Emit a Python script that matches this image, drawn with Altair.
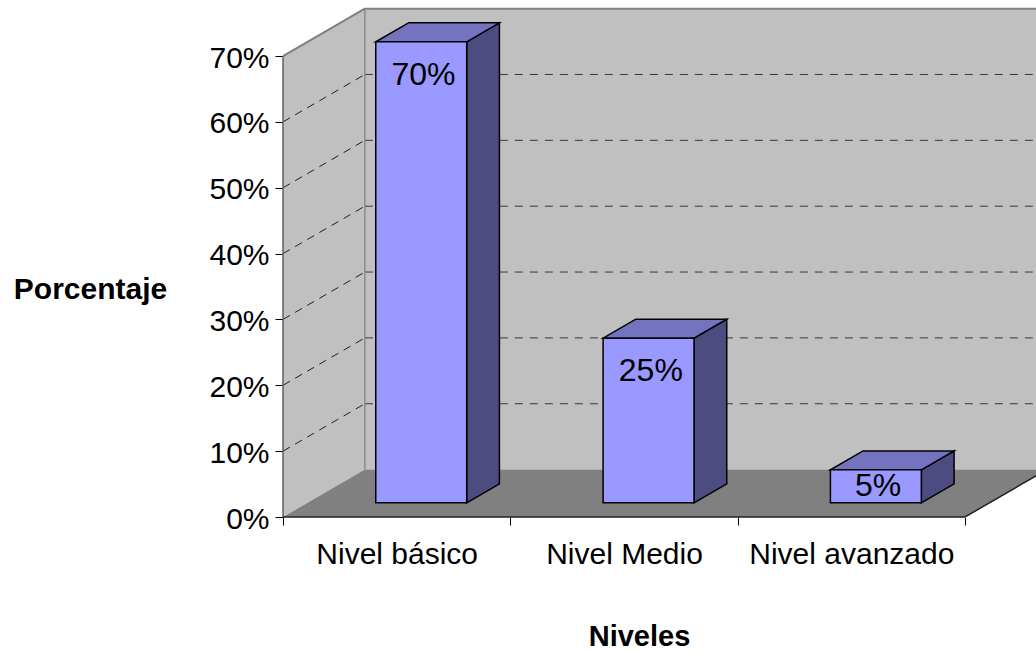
import altair as alt
import pandas as pd

# ---- data ----
categories = ["Nivel básico", "Nivel Medio", "Nivel avanzado"]
values = [70, 25, 5]
y_ticks = [0, 10, 20, 30, 40, 50, 60, 70]
y_top = 70

# ---- 3D projection settings (depth offset expressed in axis units) ----
DX = 0.36      # horizontal depth offset, in category units
DY = 7.2       # vertical depth offset, in percentage points
D0, D1 = 0.3, 0.7    # bar depth span (fraction of the floor depth)
B0, B1 = 0.3, 0.7    # bar width span within a category

W, H = 753, 517
PX_CAT = 227.33
PX_PCT = 6.585
xs = alt.Scale(domain=[0, W / PX_CAT], nice=False, zero=False)
ys = alt.Scale(domain=[0, H / PX_PCT], nice=False, zero=False)

n = len(categories)
FONT = "Liberation Sans"

names_js = "[" + ",".join("'" + c + "'" for c in categories) + "]"
x_vals = [k / 2 for k in range(0, 2 * n + 1)]

x_axis = alt.Axis(
    values=x_vals,
    labelExpr=f"datum.value % 1 == 0.5 ? {names_js}[floor(datum.value)] : ''",
    tickOpacity={"condition": {"test": "datum.value % 1 == 0", "value": 1}, "value": 0},
    tickSize=8, tickColor="black", tickWidth=1,
    domain=False, grid=False, labelFlush=False, labelOverlap=False, labelLimit=0,
    labelFont=FONT, labelFontSize=30, labelColor="black", labelPadding=14,
    title="Niveles", titleFont=FONT, titleFontSize=29, titleFontWeight="bold",
    titleColor="black", titleX=356, titleY=128, titleAlign="center",
    titleBaseline="alphabetic",
)
y_axis = alt.Axis(
    values=y_ticks, labelExpr="datum.value + '%'",
    tickSize=8, tickColor="black", tickWidth=1,
    domain=False, grid=False, labelFlush=False, labelOverlap=False, labelLimit=0,
    labelFont=FONT, labelFontSize=30, labelColor="black", labelPadding=6, labelOffset=2,
    title="Porcentaje", titleFont=FONT, titleFontSize=30, titleFontWeight="bold",
    titleColor="black", titleAngle=0, titleX=-193, titleY=298, titleAlign="center",
    titleBaseline="alphabetic",
)


def X(field, **kw):
    return alt.X(field, scale=xs, axis=x_axis, **kw)


def Y(field, **kw):
    return alt.Y(field, scale=ys, axis=y_axis, **kw)


# back wall
back = pd.DataFrame({"x": [DX], "x2": [n + DX], "y": [DY], "y2": [y_top + DY]})
back_wall = alt.Chart(back).mark_rect(color="#c0c0c0", clip=True).encode(
    x=X("x:Q"), x2="x2:Q", y=Y("y:Q"), y2="y2:Q",
)

# left wall
left = pd.DataFrame({"x": [0, DX], "lo": [0, DY], "hi": [y_top, y_top + DY]})
left_wall = alt.Chart(left).mark_area(color="#c0c0c0").encode(
    x=X("x:Q"), y=Y("lo:Q", stack=None), y2="hi:Q",
)

# floor
fl = pd.DataFrame({"y": [0, DY], "xl": [0, DX], "xr": [n, n + DX]})
floor = alt.Chart(fl).mark_area(color="#808080", orient="horizontal", clip=True).encode(
    y=Y("y:Q"), x=X("xl:Q", stack=None), x2="xr:Q",
)

grid_levels = [v for v in y_ticks if 0 < v < y_top]
lg = pd.DataFrame({"x": [0] * len(grid_levels), "x2": [DX] * len(grid_levels),
                   "y": grid_levels, "y2": [v + DY for v in grid_levels]})
left_grid = alt.Chart(lg).mark_rule(color="#202020", strokeDash=[8, 6], strokeWidth=1).encode(
    x=X("x:Q"), x2="x2:Q", y=Y("y:Q"), y2="y2:Q",
)
bg = pd.DataFrame({"x": [DX] * len(grid_levels), "x2": [n + DX] * len(grid_levels),
                   "y": [v + DY for v in grid_levels]})
back_grid = alt.Chart(bg).mark_rule(color="#383838", strokeDash=[8, 7], strokeWidth=1, clip=True).encode(
    x=X("x:Q"), x2="x2:Q", y=Y("y:Q"),
)

edges = pd.DataFrame([
    {"x": DX, "x2": DX, "y": DY, "y2": y_top + DY, "c": "#8a8a8a", "w": 1.5},
    {"x": 0, "x2": DX, "y": y_top, "y2": y_top + DY, "c": "#808080", "w": 2},
    {"x": 0, "x2": 0, "y": 0, "y2": y_top, "c": "#606060", "w": 1.5},
    {"x": 0, "x2": n, "y": 0, "y2": 0, "c": "#202020", "w": 1.5},
])
edge_layer = alt.Chart(edges).mark_rule().encode(
    x=X("x:Q"), x2="x2:Q", y=Y("y:Q"), y2="y2:Q",
    color=alt.Color("c:N", scale=None), strokeWidth=alt.StrokeWidth("w:Q", scale=None),
)
edges_c = pd.DataFrame([
    {"x": DX, "x2": n + DX, "y": y_top + DY, "y2": y_top + DY, "c": "#808080", "w": 2},
    {"x": n, "x2": n + DX, "y": 0, "y2": DY, "c": "#202020", "w": 1.5},
])
edge_clip = alt.Chart(edges_c).mark_rule(clip=True).encode(
    x=X("x:Q"), x2="x2:Q", y=Y("y:Q"), y2="y2:Q",
    color=alt.Color("c:N", scale=None), strokeWidth=alt.StrokeWidth("w:Q", scale=None),
)

# bars
side_rows, top_rows, front_rows, label_rows = [], [], [], []
for i, v in enumerate(values):
    for d in (D0, D1):
        side_rows.append({"b": i, "x": i + B1 + d * DX, "lo": d * DY, "hi": v + d * DY})
        top_rows.append({"b": i, "y": v + d * DY, "xl": i + B0 + d * DX, "xr": i + B1 + d * DX})
    front_rows.append({"b": i, "x": i + B0 + D0 * DX, "x2": i + B1 + D0 * DX,
                       "y": D0 * DY, "y2": v + D0 * DY})
    label_rows.append({"x": i + 0.5 + D0 * DX + 0.01, "y": max(v - 5, v / 2) + D0 * DY,
                       "t": f"{v}%"})

bar_style = dict(stroke="black", strokeWidth=1.5, strokeJoin="miter")
side = alt.Chart(pd.DataFrame(side_rows)).mark_area(color="#4c4c80", **bar_style).encode(
    x=X("x:Q"), y=Y("lo:Q", stack=None), y2="hi:Q", detail="b:N",
)
top = alt.Chart(pd.DataFrame(top_rows)).mark_area(color="#7373bf", orient="horizontal", **bar_style).encode(
    y=Y("y:Q"), x=X("xl:Q", stack=None), x2="xr:Q", detail="b:N",
)
front = alt.Chart(pd.DataFrame(front_rows)).mark_rect(color="#9999ff", **bar_style).encode(
    x=X("x:Q"), x2="x2:Q", y=Y("y:Q"), y2="y2:Q",
)
labels = alt.Chart(pd.DataFrame(label_rows)).mark_text(
    font=FONT, fontSize=32, color="black", baseline="middle", align="center"
).encode(
    x=X("x:Q"), y=Y("y:Q"), text="t:N",
)

chart = alt.layer(
    back_wall, left_wall, floor, left_grid, back_grid, edge_layer, edge_clip,
    side, top, front, labels,
).properties(
    width=W, height=H,
    padding={"left": 283, "top": 0, "right": 0, "bottom": 135},
    autosize=alt.AutoSizeParams(type="none"),
    background="white",
).configure_view(stroke=None)

chart.save("out.html", embed_options={"renderer": "svg", "actions": False})
